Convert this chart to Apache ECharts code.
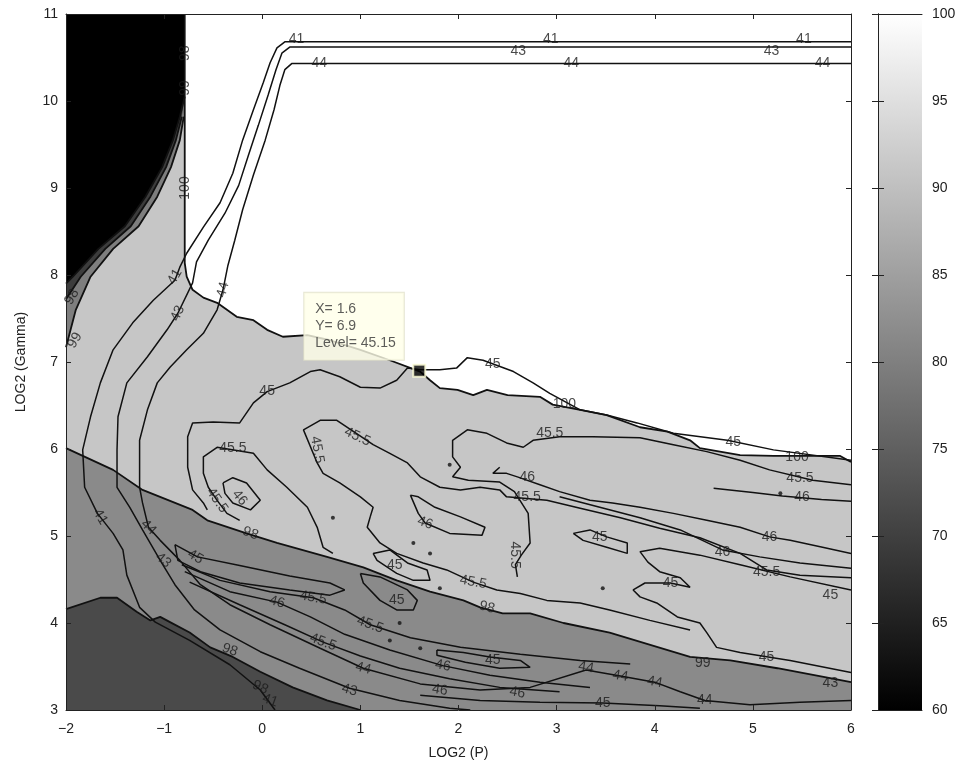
<!DOCTYPE html>
<html>
<head>
<meta charset="utf-8">
<script src="https://cdn.jsdelivr.net/npm/echarts@6/dist/echarts.min.js"></script>
<style>
  html, body { margin: 0; background: #fff; }
  #chart { width: 967px; height: 767px; }
</style>
</head>
<body>
<div id="chart"></div>
<script>
// axis ranges
const xRange = [-2, 6]
const yRange = [3, 11]
const cbRange = [60, 100]

// filled regions, [log2 P, log2 gamma]
const whiteRegion = [[-0.79,11],[6,11],[6,5.85],[5.89,5.92],[5.21,5.92],[4.87,5.93],[4.46,6.01],[4.36,6.10],[4.13,6.20],[3.85,6.25],[3.51,6.39],[3.24,6.45],[2.96,6.51],[2.83,6.60],[2.50,6.62],[2.29,6.68],[2.15,6.62],[1.99,6.68],[1.81,6.70],[1.71,6.79],[1.61,6.89],[1.30,7.02],[1.00,7.14],[0.69,7.25],[0.46,7.31],[0.21,7.29],[0.05,7.37],[-0.09,7.48],[-0.26,7.52],[-0.36,7.60],[-0.46,7.68],[-0.60,7.74],[-0.71,7.83],[-0.77,7.98],[-0.79,8.14]]
const blackRegion = [[-2,11],[-0.79,11],[-0.79,10.05],[-0.84,9.82],[-0.91,9.55],[-1.02,9.24],[-1.19,8.90],[-1.40,8.56],[-1.67,8.30],[-1.93,7.98],[-2,7.9]]
const darkBand = [[-2,11],[-0.79,11],[-0.79,10.05],[-0.82,9.82],[-0.88,9.55],[-0.98,9.24],[-1.14,8.90],[-1.34,8.56],[-1.60,8.30],[-1.85,7.98],[-2,7.72]]
const midBand = [[-2,11],[-0.79,11],[-0.79,10.05],[-0.80,9.82],[-0.84,9.55],[-0.93,9.24],[-1.07,8.90],[-1.26,8.56],[-1.52,8.30],[-1.75,7.98],[-1.9,7.6],[-2,7.17]]
const midRegion = [[-2,6.01],[-1.52,5.76],[-1.22,5.53],[-0.71,5.30],[-0.56,5.18],[-0.16,5.03],[0.15,4.92],[0.66,4.76],[1.03,4.64],[1.37,4.49],[1.71,4.36],[2.05,4.26],[2.22,4.18],[2.45,4.11],[2.73,4.11],[3.07,4.00],[3.54,3.89],[4.36,3.61],[4.77,3.57],[5.25,3.48],[5.72,3.38],[6,3.32],[6,3],[-2,3]]
const darkRegion = [[-2,4.16],[-1.65,4.29],[-1.48,4.29],[-1.28,4.13],[-1.14,4.03],[-1.04,4.07],[-0.94,4.01],[-0.74,3.89],[-0.53,3.72],[-0.30,3.61],[-0.02,3.44],[0.31,3.26],[0.66,3.11],[1.0,3.0],[-2,3]]

// contour lines
const c41 = [[6,10.68],[0.23,10.68],[0.15,10.61],[0.08,10.44],[0.01,10.21],[-0.09,9.90],[-0.20,9.55],[-0.30,9.17],[-0.43,8.83],[-0.60,8.55],[-0.77,8.25],[-0.84,8.09],[-0.89,7.94],[-1.11,7.71],[-1.32,7.45],[-1.52,7.14],[-1.65,6.76],[-1.75,6.37],[-1.83,5.99],[-1.81,5.56],[-1.68,5.26],[-1.52,5.03],[-1.42,4.84],[-1.38,4.55],[-1.25,4.18],[-1.09,4.01],[-0.74,3.80],[-0.33,3.52],[-0.02,3.23],[0.13,3.00]]
const c43 = [[6,10.62],[0.28,10.62],[0.20,10.55],[0.14,10.36],[0.06,10.07],[-0.04,9.72],[-0.14,9.38],[-0.24,9.03],[-0.38,8.71],[-0.55,8.40],[-0.67,8.15],[-0.71,7.91],[-0.86,7.56],[-0.97,7.37],[-1.17,7.06],[-1.38,6.76],[-1.47,6.37],[-1.48,5.99],[-1.48,5.56],[-1.35,5.33],[-1.22,5.07],[-1.04,4.72],[-0.89,4.44],[-0.69,4.15],[-0.43,3.92],[-0.02,3.67],[0.38,3.48],[0.89,3.25],[1.40,3.11],[1.91,3.02],[2.12,3.00]]
const c44 = [[6,10.43],[0.30,10.43],[0.23,10.36],[0.18,10.18],[0.12,9.90],[0.03,9.55],[-0.09,9.15],[-0.20,8.75],[-0.28,8.40],[-0.35,8.11],[-0.40,7.83],[-0.46,7.60],[-0.60,7.33],[-0.77,7.14],[-0.94,6.94],[-1.07,6.76],[-1.17,6.45],[-1.25,6.10],[-1.25,5.76],[-1.25,5.56],[-1.22,5.38],[-1.16,5.10],[-1.04,4.95],[-0.84,4.72],[-0.63,4.44],[-0.33,4.21],[0.08,3.98],[0.59,3.71],[1.03,3.48],[1.61,3.30],[2.22,3.23],[2.73,3.26],[3.30,3.46],[3.65,3.39],[4.00,3.32],[4.26,3.21],[4.51,3.11],[4.97,3.06],[5.48,3.09],[6,3.11]]
const c45Top = [[-0.56,5.30],[-0.60,5.38],[-0.71,5.53],[-0.76,5.79],[-0.76,6.14],[-0.71,6.30],[-0.50,6.31],[-0.23,6.30],[-0.09,6.53],[0.05,6.66],[0.28,6.76],[0.49,6.89],[0.59,6.91],[0.79,6.83],[1.00,6.71],[1.20,6.70],[1.37,6.79],[1.48,6.93],[1.61,6.91],[1.81,6.91],[1.98,6.93],[2.09,7.05],[2.25,7.02],[2.56,6.89],[2.76,6.76],[2.93,6.64],[3.24,6.45],[3.51,6.39],[3.82,6.30],[4.19,6.18],[4.74,6.10],[5.21,5.99],[6,5.87]]
const c455Right = [[2.60,4.53],[2.58,4.67],[2.64,4.78],[2.73,4.92],[2.71,5.26],[2.57,5.51],[2.42,5.62],[2.10,5.64],[1.94,5.68],[2.02,5.79],[1.94,5.91],[1.94,6.10],[2.09,6.22],[2.29,6.18],[2.49,6.07],[2.66,6.02],[2.76,6.10],[3.03,6.14],[3.37,6.14],[3.85,6.13],[4.19,6.05],[4.53,5.97],[4.87,5.87],[5.17,5.76],[5.61,5.64],[6,5.59]]
const c46Long = [[2.42,5.79],[2.35,5.72],[2.49,5.72],[2.60,5.68],[2.83,5.59],[3.03,5.51],[3.34,5.41],[3.57,5.38],[3.85,5.33],[4.19,5.26],[4.53,5.18],[4.87,5.10],[5.17,4.99],[5.38,4.95],[5.71,4.87],[6,4.80]]
const c46Mid = [[3.03,5.45],[3.44,5.33],[3.85,5.21],[4.26,5.07],[4.69,4.84],[5.07,4.76],[5.48,4.69],[6,4.63]]
const c46Short = [[4.60,5.55],[5.00,5.50],[5.30,5.46],[5.70,5.42],[6,5.40]]
const c455Upper = [[1.10,5.22],[1.13,5.33],[1.00,5.45],[0.79,5.61],[0.62,5.72],[0.56,5.84],[0.42,6.22],[0.59,6.33],[0.76,6.33],[1.13,6.05],[1.30,5.95],[1.48,5.84],[1.61,5.68],[1.81,5.56],[2.02,5.53],[2.22,5.56],[2.42,5.53],[2.49,5.45],[2.90,5.41],[3.24,5.32],[3.65,5.21],[4.05,5.09],[4.46,4.98],[4.87,4.80],[5.14,4.61],[5.48,4.55],[6,4.52]]
const c455Lower = [[1.10,5.22],[1.07,5.10],[1.20,4.92],[1.37,4.80],[1.64,4.69],[1.88,4.61],[2.15,4.47],[2.39,4.38],[2.63,4.34],[2.90,4.26],[3.24,4.23],[3.54,4.15],[3.95,4.03],[4.36,3.92]]
const c45Right = [[6,3.43],[5.38,3.57],[4.87,3.66],[4.63,3.72],[4.53,3.89],[4.46,4.00],[4.23,4.07],[4.02,4.23],[3.85,4.30],[3.78,4.38],[3.90,4.46],[4.16,4.46],[4.36,4.41],[4.26,4.52],[4.05,4.59],[3.93,4.70],[3.85,4.82],[4.05,4.86],[4.46,4.78],[4.87,4.67],[5.38,4.53],[6,4.38]]
const c45Loop = [[3.17,5.03],[3.34,5.07],[3.51,4.99],[3.72,4.92],[3.72,4.80],[3.51,4.87],[3.27,4.95],[3.17,5.03]]
const c46Island = [[1.51,5.47],[1.59,5.26],[1.66,5.15],[1.91,5.03],[2.24,5.01],[2.27,5.10],[2.02,5.22],[1.76,5.33],[1.59,5.45],[1.51,5.47]]
const c455Left = [[-0.23,5.18],[-0.36,5.26],[-0.46,5.41],[-0.55,5.56],[-0.60,5.72],[-0.60,5.91],[-0.46,6.02],[-0.09,5.95],[0.05,5.76],[0.25,5.56],[0.46,5.33],[0.56,5.10],[0.62,4.87],[0.72,4.80]]
const c46Left = [[-0.40,5.61],[-0.30,5.67],[-0.16,5.61],[-0.02,5.41],[-0.12,5.30],[-0.30,5.38],[-0.38,5.49],[-0.40,5.61]]
const c45Band = [[-0.89,4.90],[-0.66,4.76],[-0.23,4.66],[0.28,4.54],[0.69,4.46],[0.84,4.38],[0.69,4.32],[0.28,4.38],[-0.23,4.46],[-0.63,4.59],[-0.86,4.72],[-0.89,4.90]]
const c455BandA = [[-0.82,4.67],[-0.43,4.49],[0.08,4.36],[0.52,4.29],[0.84,4.15],[1.10,3.98],[1.51,3.83],[2.02,3.72],[2.63,3.64],[3.24,3.57],[3.75,3.53]]
const c46Band = [[-0.79,4.59],[-0.33,4.36],[0.15,4.24],[0.49,4.07],[0.84,3.87],[1.30,3.69],[1.84,3.51],[2.32,3.40],[2.83,3.32],[3.34,3.26]]
const c455BandB = [[-0.74,4.47],[-0.23,4.21],[0.23,3.98],[0.62,3.78],[1.00,3.62],[1.40,3.48],[1.91,3.36],[2.42,3.26],[3.03,3.21]]
const c45Bottom = [[1.61,3.17],[2.22,3.11],[2.83,3.09],[3.47,3.08],[4.05,3.05],[4.46,3.02]]
const c45LoopA = [[1.13,4.80],[1.30,4.84],[1.48,4.69],[1.68,4.61],[1.71,4.49],[1.54,4.49],[1.37,4.57],[1.17,4.72],[1.13,4.80]]
const c45LoopB = [[1.00,4.57],[1.20,4.53],[1.48,4.38],[1.58,4.26],[1.54,4.15],[1.37,4.15],[1.20,4.26],[1.03,4.46],[1.00,4.57]]
const c45LoopC = [[1.78,3.69],[2.05,3.66],[2.32,3.61],[2.63,3.57],[2.73,3.49],[2.42,3.48],[2.07,3.55],[1.78,3.63],[1.78,3.69]]

// small closed contours (dots)
const dots = [[1.54,4.92],[1.71,4.80],[1.81,4.40],[3.47,4.40],[1.91,5.82],[0.72,5.21],[5.28,5.49],[1.40,4.0],[1.30,3.80],[1.61,3.71]]

// inline labels: x, y, text, rotation
const contourLabels = [
  [0.35,10.71,'41',0],[2.94,10.71,'41',0],[5.52,10.71,'41',0],
  [2.61,10.57,'43',0],[5.19,10.57,'43',0],
  [0.58,10.43,'44',0],[3.15,10.43,'44',0],[5.71,10.43,'44',0],
  [-0.79,10.55,'98',90],[-0.79,10.15,'99',90],[-0.79,9.0,'100',90],
  [-0.89,7.98,'41',60],[-0.86,7.56,'43',65],[-0.40,7.83,'44',75],
  [-1.94,7.75,'98',60],[-1.91,7.25,'99',60],
  [0.05,6.66,'45',0],[2.35,6.97,'45',0],[4.80,6.08,'45',0],
  [3.08,6.51,'100',0],[5.45,5.91,'100',0],
  [2.93,6.18,'45.5',0],[5.48,5.66,'45.5',0],[2.57,4.78,'45.5',-90],
  [2.70,5.68,'46',0],[5.17,4.99,'46',0],[4.69,4.82,'46',0],[5.50,5.45,'46',0],
  [0.97,6.14,'45.5',-25],[0.56,5.99,'45.5',-80],[2.70,5.45,'45.5',0],[5.14,4.59,'45.5',0],[2.15,4.47,'45.5',-10],
  [4.16,4.46,'45',0],[5.14,3.61,'45',0],[5.79,4.32,'45',0],[3.44,4.99,'45',0],
  [1.66,5.15,'46',-20],
  [-0.30,6.01,'45.5',0],[-0.46,5.41,'45.5',-55],[-0.23,5.44,'46',-50],
  [-0.12,5.03,'98',-20],[2.29,4.18,'98',-15],[4.49,3.54,'99',0],[5.79,3.31,'43',0],
  [-0.33,3.69,'98',-20],[-0.02,3.26,'98',-25],[0.08,3.11,'41',-20],
  [-1.65,5.22,'41',-60],[-1.16,5.10,'44',-45],[-1.01,4.72,'43',-40],[-0.68,4.76,'45',-30],
  [0.52,4.29,'45.5',-10],[0.15,4.24,'46',-15],[1.10,3.98,'45.5',-20],[1.84,3.51,'46',-10],[0.62,3.78,'45.5',-20],
  [1.35,4.67,'45',0],[1.37,4.26,'45',0],[2.35,3.57,'45',0],
  [1.03,3.48,'44',-15],[0.89,3.23,'43',-15],[3.47,3.08,'45',0],
  [3.30,3.49,'44',-10],[3.65,3.39,'44',-10],[4.00,3.32,'44',-10],[4.51,3.11,'44',0],
  [1.81,3.23,'46',-10],[2.60,3.20,'46',-10]
]

// data tip
const tipPoint = [1.6, 6.9]
const tipLevel = 45.15

const fills = [
  [midBand, '#7e7e7e'],
  [darkBand, '#3c3c3c'],
  [blackRegion, '#000000'],
  [whiteRegion, '#ffffff'],
  [midRegion, '#8a8a8a'],
  [darkRegion, '#4a4a4a'],
]

const contours = [c41, c43, c44, c45Top, c455Right, c46Long, c46Mid, c46Short, c455Upper, c455Lower,
  c45Right, c45Loop, c46Island, c455Left, c46Left, c45Band, c455BandA, c46Band, c455BandB, c45Bottom,
  c45LoopA, c45LoopB, c45LoopC]

const boundaries = [
  whiteRegion.slice(2).concat([whiteRegion[0]]),
  blackRegion.slice(2),
  darkBand.slice(3),
  midBand.slice(3),
  midRegion.slice(0, -2),
  darkRegion.slice(0, -1),
]

const font = "'Liberation Sans', Arial, sans-serif"
const chart = echarts.init(document.getElementById('chart'))

const lineSeries = (pts, w) => ({
  type: 'line', data: pts, xAxisIndex: 0, yAxisIndex: 0,
  showSymbol: false, symbol: 'none', silent: true, z: 3,
  lineStyle: { color: '#111', width: w },
})

const mainAxisX = (pos, labels) => ({
  type: 'value', gridIndex: 0, position: pos, min: xRange[0], max: xRange[1], interval: 1,
  z: 10, splitLine: { show: false },
  axisLine: { show: true, onZero: false, lineStyle: { color: '#222', width: 1 } },
  axisTick: { show: true, inside: true, length: 5, lineStyle: { color: '#222' } },
  axisLabel: { show: labels, color: '#222', fontSize: 14, fontFamily: font, margin: 12,
    formatter: (v) => String(v).replace('-', '\u2212') },
  name: labels ? 'LOG2 (P)' : '', nameLocation: 'middle', nameGap: 36,
  nameTextStyle: { color: '#222', fontSize: 14, fontFamily: font },
})

const mainAxisY = (pos, labels) => ({
  type: 'value', gridIndex: 0, position: pos, min: yRange[0], max: yRange[1], interval: 1,
  z: 10, splitLine: { show: false },
  axisLine: { show: true, onZero: false, lineStyle: { color: '#222', width: 1 } },
  axisTick: { show: true, inside: true, length: 5, lineStyle: { color: '#222' } },
  axisLabel: { show: labels, color: '#222', fontSize: 14, fontFamily: font, margin: 8 },
  name: labels ? 'LOG2 (Gamma)' : '', nameLocation: 'middle', nameGap: 38, nameRotate: 90,
  nameTextStyle: { color: '#222', fontSize: 14, fontFamily: font },
})

const cbAxisY = (pos, labels) => ({
  type: 'value', gridIndex: 1, position: pos, min: cbRange[0], max: cbRange[1], interval: 5,
  z: 10, splitLine: { show: false },
  axisLine: { show: true, lineStyle: { color: '#222', width: 1 } },
  axisTick: { show: true, inside: true, length: 6, lineStyle: { color: '#222' } },
  axisLabel: { show: labels, color: '#222', fontSize: 14, fontFamily: font, margin: 10 },
})

const cbAxisX = (pos) => ({
  type: 'value', gridIndex: 1, position: pos, min: 0, max: 1, z: 10,
  splitLine: { show: false }, axisTick: { show: false }, axisLabel: { show: false },
  axisLine: { show: true, onZero: false, lineStyle: { color: '#222', width: 1 } },
})

chart.setOption({
  backgroundColor: '#fff',
  animation: false,
  grid: [
    { left: 66, top: 14, width: 785, height: 696, show: true, backgroundColor: '#c6c6c6', borderWidth: 0 },
    { left: 878, top: 14, width: 44, height: 696 },
  ],
  xAxis: [mainAxisX('bottom', true), mainAxisX('top', false), cbAxisX('bottom'), cbAxisX('top')],
  yAxis: [mainAxisY('left', true), mainAxisY('right', false), cbAxisY('right', true), cbAxisY('left', false)],
  series: [
    {
      type: 'custom', xAxisIndex: 0, yAxisIndex: 0, z: 1, silent: true,
      data: fills.map((f, i) => [f[0][0][0], f[0][0][1], i]),
      encode: { x: 0, y: 1 },
      renderItem: (params, api) => {
        const f = fills[api.value(2)]
        return { type: 'polygon', shape: { points: f[0].map((p) => api.coord(p)) }, style: { fill: f[1] } }
      },
    },
    ...boundaries.map((b) => lineSeries(b, 1.8)),
    ...contours.map((c) => lineSeries(c, 1.5)),
    {
      type: 'scatter', xAxisIndex: 0, yAxisIndex: 0, z: 4, silent: true,
      data: dots, symbolSize: 4, itemStyle: { color: '#111' },
    },
    {
      type: 'scatter', xAxisIndex: 0, yAxisIndex: 0, z: 5, silent: true,
      symbolSize: 1, itemStyle: { color: 'transparent' },
      data: contourLabels.map((d) => ({ value: [d[0], d[1]], name: d[2], label: { rotate: d[3] } })),
      label: { show: true, position: 'inside', formatter: '{b}', color: '#1a1a1a', fontSize: 14, fontFamily: font },
    },
    {
      type: 'scatter', xAxisIndex: 0, yAxisIndex: 0, z: 6, silent: true,
      data: [tipPoint], symbol: 'rect', symbolSize: 12,
      itemStyle: { color: '#000', borderColor: '#ffffd8', borderWidth: 2 },
      label: {
        show: true, position: [-108, -4], align: 'left', verticalAlign: 'bottom',
        formatter: `X= ${tipPoint[0]}\nY= ${tipPoint[1]}\nLevel= ${tipLevel}`,
        backgroundColor: '#ffffe8', borderColor: '#dedec8', borderWidth: 1,
        padding: [8, 8, 8, 11], lineHeight: 17, color: '#333', fontSize: 14, fontFamily: font,
      },
    },
    {
      type: 'custom', xAxisIndex: 2, yAxisIndex: 2, z: 1, silent: true,
      data: [[0, cbRange[0]]],
      renderItem: (params, api) => {
        const p0 = api.coord([0, cbRange[1]])
        const p1 = api.coord([1, cbRange[0]])
        return {
          type: 'rect',
          shape: { x: p0[0], y: p0[1], width: p1[0] - p0[0], height: p1[1] - p0[1] },
          style: {
            fill: new echarts.graphic.LinearGradient(0, 0, 0, 1, [
              { offset: 0, color: '#ffffff' },
              { offset: 1, color: '#000000' },
            ]),
          },
        }
      },
    },
  ],
})
</script>
</body>
</html>
